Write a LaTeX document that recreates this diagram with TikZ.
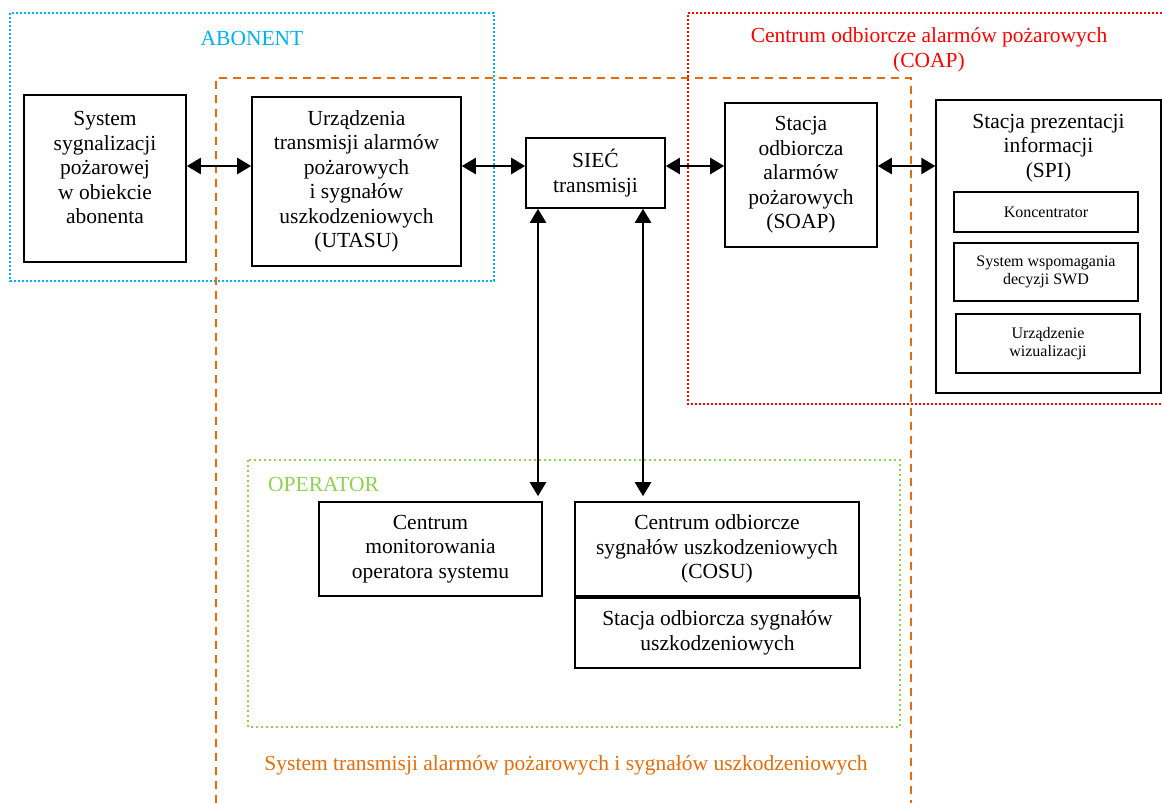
\documentclass[tikz,border=0pt]{standalone}
\usepackage{fontspec}
\setmainfont{Liberation Serif}
\usetikzlibrary{arrows.meta,positioning}
\definecolor{abonentblue}{RGB}{0,176,240}
\definecolor{coapred}{RGB}{255,0,0}
\definecolor{stasorange}{RGB}{228,108,10}
\definecolor{opergreen}{RGB}{146,208,80}

\begin{document}
\begin{tikzpicture}[x=1pt,y=-1pt,
    blok/.style={draw,line width=1.6pt,inner sep=0pt,align=center,font=\fontsize{21.5}{24.5}\selectfont},
    maly/.style={blok,line width=1.8pt,font=\fontsize{16}{18.5}\selectfont},
    napis/.style={inner sep=0pt,align=center,font=\fontsize{21.5}{24.5}\selectfont},
    strz/.style={line width=2.4pt,{Triangle[length=14pt,width=16pt]}-{Triangle[length=14pt,width=16pt]}}]

    \useasboundingbox (0,0) rectangle (1162,803);

    % Group frames
    \draw [abonentblue,line width=2pt,dash pattern=on 2pt off 2pt] (10,13) rectangle (494,281);
    \node [napis,abonentblue] (abonent) at (252,38) {ABONENT};

    \draw [coapred,line width=1.8pt,dash pattern=on 2pt off 2pt] (1162,13) -- (688,13) -- (688,404) -- (1162,404);
    \node [napis,coapred] (coap) at (929,50) {Centrum odbiorcze alarmów pożarowych\\(COAP)};

    \draw [stasorange,line width=2pt,dash pattern=on 8pt off 6pt] (216,803) -- (216,78) -- (911,78) -- (911,803);
    \node [napis,stasorange] (stas) at (566,765) {System transmisji alarmów pożarowych i sygnałów uszkodzeniowych};

    \draw [opergreen,line width=1.8pt,dash pattern=on 2pt off 3pt] (248,460) rectangle (900,727);
    \node [napis,opergreen,anchor=west] (operator) at (268,484) {OPERATOR};

    % Boxes of the main row
    \node [blok,minimum width=162pt,minimum height=167pt] (ssp) at (105,178.5) {};
    \node [napis] (ssptxt) at (105,167.5) {System\\sygnalizacji\\pożarowej\\w obiekcie\\abonenta};
    \node [blok,minimum width=209pt,minimum height=169pt] (utasu) at (356.5,181.5)
        {Urządzenia\\transmisji alarmów\\pożarowych\\i sygnałów\\uszkodzeniowych\\(UTASU)};
    \node [blok,minimum width=139pt,minimum height=70pt] (siec) at (595.5,173) {SIEĆ\\transmisji};
    \node [blok,minimum width=152pt,minimum height=144pt] (soap) at (801,175)
        {Stacja\\odbiorcza\\alarmów\\pożarowych\\(SOAP)};
    \node [blok,line width=1.3pt,minimum width=225pt,minimum height=293pt] (spi) at (1048.5,246.5) {};
    \node [napis] (spitxt) at (1048.5,148) {Stacja prezentacji\\informacji\\(SPI)};

    % Parts of SPI
    \foreach \nazwa/\x/\y/\h/\tekst in {
    konc/1046/212/40/Koncentrator,
    swd/1046/272/58/{System wspomagania\\decyzji SWD},
    wiz/1048/343.5/59/{Urządzenie\\wizualizacji}} {
    \node [maly,minimum width=184pt,minimum height=\h pt] (\nazwa) at (\x,\y) {\tekst};
    }

    % Operator boxes
    \node [blok,minimum width=223pt,minimum height=94pt] (cmos) at (430.5,549)
        {Centrum\\monitorowania\\operatora systemu};
    \node [blok,minimum width=284pt,minimum height=94pt] (cosu) at (717,549)
        {Centrum odbiorcze\\sygnałów uszkodzeniowych\\(COSU)};
    \node [blok,minimum width=285pt,minimum height=70pt] (sosu) at (717.5,633)
        {Stacja odbiorcza sygnałów\\uszkodzeniowych};

    % Connections
    \coordinate (poziom) at (0,166);
    \draw [strz] (ssp.east |- poziom) -- (utasu.west |- poziom);
    \draw [strz] (utasu.east |- poziom) -- (siec.west |- poziom);
    \draw [strz] (siec.east |- poziom) -- (soap.west |- poziom);
    \draw [strz] (soap.east |- poziom) -- (spi.west |- poziom);

    \coordinate (pion1) at (538,0);
    \coordinate (pion2) at (643,0);
    \draw [strz,shorten >=5pt] (siec.south -| pion1) -- (cmos.north -| pion1);
    \draw [strz,shorten >=5pt] (siec.south -| pion2) -- (cosu.north -| pion2);

\end{tikzpicture}
\end{document}
